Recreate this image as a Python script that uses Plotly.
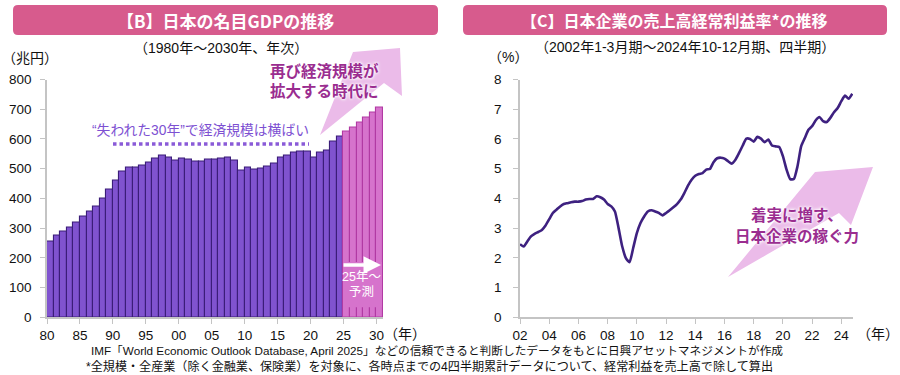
import plotly.graph_objects as go

# ---------------- data ----------------
years_actual = list(range(1980, 2025))
gdp_actual = [256, 275, 287, 301, 318, 338, 355, 373, 399, 429,
              459, 489, 503, 503, 510, 520, 534, 544, 537, 527,
              534, 530, 524, 524, 530, 530, 534, 537, 527, 493,
              503, 497, 500, 507, 517, 537, 544, 554, 557, 557,
              537, 554, 561, 591, 608]
years_forecast = list(range(2025, 2031))
gdp_forecast = [625, 638, 655, 672, 689, 706]

left_tickvals = [1980, 1985, 1990, 1995, 2000, 2005, 2010, 2015, 2020, 2025, 2030]
left_ticktext = ["80", "85", "90", "95", "00", "05", "10", "15", "20", "25", "30"]
left_yticks = [0, 100, 200, 300, 400, 500, 600, 700, 800]

margin_start_year = 2002
margin_q = [2.46, 2.38, 2.55, 2.72,   # 2002
            2.81, 2.87, 2.94, 3.09,   # 2003
            3.30, 3.51, 3.62, 3.73,   # 2004
            3.81, 3.84, 3.87, 3.89,   # 2005
            3.89, 3.91, 3.96, 3.98,   # 2006
            3.98, 4.07, 4.04, 3.96,   # 2007
            3.81, 3.73, 3.56, 3.00,   # 2008
            2.38, 1.99, 1.85, 2.33,   # 2009
            2.83, 3.17, 3.39, 3.56,   # 2010
            3.60, 3.56, 3.51, 3.43,   # 2011
            3.51, 3.60, 3.70, 3.81,   # 2012
            3.96, 4.18, 4.43, 4.63,   # 2013
            4.76, 4.82, 4.85, 4.97,   # 2014
            4.99, 5.22, 5.35, 5.37,   # 2015
            5.34, 5.25, 5.17, 5.30,   # 2016
            5.53, 5.78, 6.01, 6.00,   # 2017
            5.91, 6.07, 6.01, 5.89,   # 2018
            5.98, 5.78, 5.75, 5.73,   # 2019
            5.42, 4.97, 4.65, 4.65,   # 2020
            5.08, 5.75, 6.03, 6.31,   # 2021
            6.43, 6.63, 6.74, 6.60,   # 2022
            6.57, 6.71, 6.90, 7.04,   # 2023
            7.27, 7.46, 7.35, 7.52]   # 2024
right_tickvals = list(range(2002, 2025, 2))
right_ticktext = ["%02d" % (v % 100) for v in right_tickvals]
right_yticks = [0, 1, 2, 3, 4, 5, 6, 7, 8]

# ---------------- styling ----------------
W, H = 900, 375
FONT = "Arial, 'Liberation Sans', 'Noto Sans CJK JP', sans-serif"
JFONT = "'Noto Sans CJK JP', Arial, sans-serif"
PURPLE = "#8053cf"
PURPLE_LINE = "#3b1d78"
PINK = "#d673cc"
PINK_LINE = "#b13aa3"
ARROW_PINK = "#ebbbe9"
TITLE_PINK = "#d75b8d"
TEXT_MAG = "#9a2d90"
AXIS_GRAY = "#c4c4c4"


def px(x):
    return x / W


def py(y):
    return 1 - y / H


def poly(points):
    s = "M " + " L ".join("%.5f,%.5f" % (px(a), py(b)) for a, b in points) + " Z"
    return s


def rounded_rect(x0, y0, x1, y1, r):
    X0, X1 = px(x0), px(x1)
    Y0, Y1 = py(y1), py(y0)
    rx, ry = r / W, r / H
    return ("M %f,%f L %f,%f Q %f,%f %f,%f L %f,%f Q %f,%f %f,%f L %f,%f Q %f,%f %f,%f "
            "L %f,%f Q %f,%f %f,%f Z") % (
        X0 + rx, Y0, X1 - rx, Y0, X1, Y0, X1, Y0 + ry, X1, Y1 - ry, X1, Y1, X1 - rx, Y1,
        X0 + rx, Y1, X0, Y1, X0, Y1 - ry, X0, Y0 + ry, X0, Y0, X0 + rx, Y0)


fig = go.Figure()

fig.add_trace(go.Bar(
    x=[y + 0.5 for y in years_actual], y=gdp_actual, width=1,
    marker=dict(color=PURPLE, line=dict(color=PURPLE_LINE, width=1.1)),
    xaxis="x", yaxis="y", showlegend=False, hoverinfo="x+y"))
fig.add_trace(go.Bar(
    x=[y + 0.5 for y in years_forecast], y=gdp_forecast, width=1,
    marker=dict(color=PINK, line=dict(color=PINK_LINE, width=1.1)),
    xaxis="x", yaxis="y", showlegend=False, hoverinfo="x+y"))

fig.add_trace(go.Scatter(
    x=[margin_start_year + i / 4 for i in range(len(margin_q))], y=margin_q,
    mode="lines", line=dict(color="#3e2180", width=2.6, shape="spline", smoothing=0.5),
    xaxis="x2", yaxis="y2", showlegend=False))

axis_common = dict(showline=True, linecolor=AXIS_GRAY, linewidth=1.5, ticks="outside",
                   tickcolor=AXIS_GRAY, ticklen=5, tickwidth=1.2, showgrid=False,
                   zeroline=False, tickfont=dict(size=13.5, color="#111", family=FONT),
                   fixedrange=True, automargin=False)

ydom = [py(317.3), py(79.5)]
fig.update_layout(
    width=W, height=H, margin=dict(l=0, r=0, t=0, b=0, autoexpand=False),
    paper_bgcolor="white", plot_bgcolor="white",
    font=dict(family=FONT, color="#111"),
    barmode="overlay", bargap=0,
    xaxis=dict(domain=[px(47), px(383)], range=[1980, 2031], tickvals=left_tickvals,
               ticktext=left_ticktext, anchor="y", **axis_common),
    yaxis=dict(domain=ydom, range=[0, 800], tickvals=left_yticks, anchor="x",
               ticklabelstandoff=6, **axis_common),
    xaxis2=dict(domain=[px(520), px(853)], range=[2002, 2024.8], tickvals=right_tickvals,
                ticktext=right_ticktext, anchor="y2", **axis_common),
    yaxis2=dict(domain=ydom, range=[0, 8], tickvals=right_yticks, anchor="x2",
                ticklabelstandoff=9, **axis_common),
)

shapes = []
# title boxes
shapes.append(dict(type="path", xref="paper", yref="paper", path=rounded_rect(13, 5, 438, 35, 5),
                   fillcolor=TITLE_PINK, line=dict(width=0), layer="below"))
shapes.append(dict(type="path", xref="paper", yref="paper", path=rounded_rect(463, 5, 887, 35, 5),
                   fillcolor=TITLE_PINK, line=dict(width=0), layer="below"))
# big arrows
shapes.append(dict(type="path", xref="paper", yref="paper",
                   path=poly([(320, 135), (353, 52), (400, 48), (402, 96), (384, 83)]),
                   fillcolor=ARROW_PINK, line=dict(width=0), layer="below"))
shapes.append(dict(type="path", xref="paper", yref="paper",
                   path=poly([(728, 277), (815, 172), (873, 167), (851, 225), (839, 213)]),
                   fillcolor=ARROW_PINK, line=dict(width=0), layer="below"))
# dotted line
shapes.append(dict(type="line", xref="paper", yref="paper", x0=px(113), x1=px(309),
                   y0=py(144), y1=py(144), line=dict(color="#8a5bd8", width=3.5, dash="3.5px,3px")))
# cover box inside forecast bars
shapes.append(dict(type="rect", xref="x", yref="y", x0=2025.15, x1=2030.85, y0=34, y1=186,
                   fillcolor=PINK, line=dict(width=0), layer="above"))
fig.update_layout(shapes=shapes)

ann = []


def text(x, y, s, size, color="#111", bold=False, xanchor="center", family=FONT, shadow=None):
    f = dict(size=size, color=color, family=family)
    if bold:
        f["weight"] = "bold"
    if shadow:
        f["shadow"] = shadow
    ann.append(dict(x=px(x), y=py(y), xref="paper", yref="paper", text=s, showarrow=False,
                    xanchor=xanchor, yanchor="middle", font=f, borderpad=0))


text(225, 20, "【B】日本の名目GDPの推移", 17, "white", True, family=JFONT)
text(674, 20, "【C】日本企業の売上高経常利益率*の推移", 16, "white", True, family=JFONT)
text(221, 48, "（1980年～2030年、年次）", 14)
text(685, 47, "（2002年1-3月期～2024年10-12月期、四半期）", 14)
text(30, 58, "（兆円）", 14)
text(508, 57, "（%）", 14)
text(405, 334, "（年）", 14)
text(878, 334, "（年）", 14)
text(200, 131, "“失われた30年”で経済規模は横ばい", 13.8, "#7d50d2")
glow = "0px 0px 2px white, 0px 0px 3px white, 0px 0px 4px white"
text(324, 70, "再び経済規模が", 15.5, TEXT_MAG, True, family=JFONT, shadow=glow)
text(324, 90, "拡大する時代に", 15.5, TEXT_MAG, True, family=JFONT, shadow=glow)
text(797, 214, "着実に増す、", 15.5, TEXT_MAG, True, family=JFONT, shadow=glow)
text(797, 235, "日本企業の稼ぐ力", 15.5, TEXT_MAG, True, family=JFONT, shadow=glow)
text(361, 277, "25年～", 12.5, "white")
text(361, 292, "予測", 12.5, "white")
text(90, 350, "IMF「World Economic Outlook Database, April 2025」などの信頼できると判断したデータをもとに日興アセットマネジメントが作成",
     11.7, "#111", xanchor="left")
text(85, 366.5, "*全規模・全産業（除く金融業、保険業）を対象に、各時点までの4四半期累計データについて、経常利益を売上高で除して算出",
     12.1, "#111", xanchor="left")

# small white arrow over forecast bars
ann.append(dict(x=px(381), y=py(265), ax=-39, ay=0, xref="paper", yref="paper",
                axref="pixel", ayref="pixel", text="", showarrow=True, arrowhead=2,
                arrowsize=1, arrowwidth=3.5, arrowcolor="white"))
fig.update_layout(annotations=ann)

fig.write_html("out.html", config={"displayModeBar": False},
               post_script="document.body.style.margin='0px';")
